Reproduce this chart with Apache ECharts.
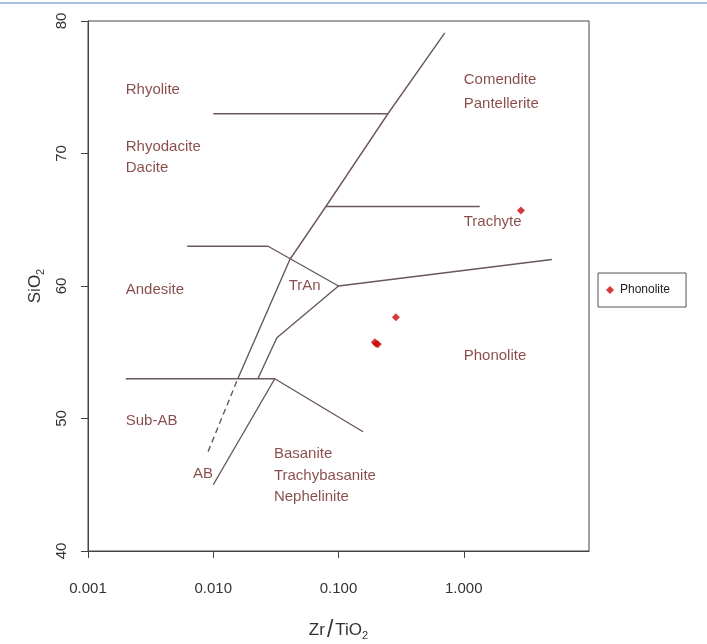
<!DOCTYPE html>
<html>
<head>
<meta charset="utf-8">
<script src="https://cdn.jsdelivr.net/npm/echarts@6/dist/echarts.min.js"></script>
<style>
  html, body { margin: 0; padding: 0; background: #ffffff; }
  #chart { width: 707px; height: 644px; }
</style>
</head>
<body>
<div id="chart"></div>
<script>
// Winchester & Floyd SiO2 vs Zr/TiO2 classification diagram

// Sample analyses (Zr/TiO2, SiO2)
const phonoliteSamples = [[2.86, 65.7], [0.287, 57.65], [0.195, 55.75], [0.2, 55.65], [0.206, 55.6]];

// Field boundaries (Zr/TiO2, SiO2)
const lineRhyolite   = [[0.01, 73], [0.248, 73]];
const lineComendite  = [[0.079, 66], [1.34, 66]];
const lineAlkaline   = [[0.0157, 53], [0.0409, 62], [0.0793, 66], [0.248, 73], [0.706, 79.1]];
const lineAlkDashed  = [[0.0091, 47.5], [0.0157, 53]];
const lineAndesite   = [[0.0062, 63], [0.0274, 63], [0.1, 60], [5.05, 62]];
const lineTrAn       = [[0.0227, 53], [0.0322, 56.1], [0.1, 60]];
const lineSubAB      = [[0.002, 53], [0.031, 53], [0.157, 49]];
const lineAB         = [[0.01, 45], [0.031, 53]];

// Field names, anchor points (left edge, vertical middle) and line spacing
const fieldNames = [
  { name: 'Rhyolite', at: [0.002, 75], lh: 21 },
  { name: 'Rhyodacite\nDacite', at: [0.002, 69.95], lh: 21 },
  { name: 'Comendite\nPantellerite', at: [1.0, 74.9], lh: 24 },
  { name: 'Trachyte', at: [1.0, 65.05], lh: 21 },
  { name: 'Andesite', at: [0.002, 59.95], lh: 21 },
  { name: 'TrAn', at: [0.04, 60.25], lh: 21 },
  { name: 'Phonolite', at: [1.0, 54.95], lh: 21 },
  { name: 'Sub-AB', at: [0.002, 50.05], lh: 21 },
  { name: 'AB', at: [0.0069, 46.05], lh: 21 },
  { name: 'Basanite\nTrachybasanite\nNephelinite', at: [0.0305, 45.9], lh: 21.5 }
];

// Axis ticks
const xTicks = [0.001, 0.01, 0.1, 1];
const yTicks = [40, 50, 60, 70, 80];

const lineColor = '#6a5858';
const textRed = '#6c1f1f';
const axisColor = '#444444';
const font = 'Liberation Sans, Arial, sans-serif';

function boundary(data, dashed) {
  return {
    type: 'line',
    data: data,
    showSymbol: false,
    symbol: 'none',
    silent: true,
    z: 2,
    lineStyle: { color: lineColor, width: 1.4, type: dashed ? [6, 4] : 'solid' },
    legendHoverLink: false
  };
}

const chart = echarts.init(document.getElementById('chart'));

chart.setOption({
  backgroundColor: '#ffffff',
  animation: false,
  textStyle: { fontFamily: font },
  grid: {
    left: 88, top: 21, width: 501, height: 530,
    outerBoundsMode: 'none',
    containLabel: false,
    show: true, borderColor: axisColor, borderWidth: 1, backgroundColor: 'transparent'
  },
  legend: {
    data: ['Phonolite'],
    left: 598, top: 273,
    orient: 'vertical',
    backgroundColor: '#ffffff',
    borderColor: '#555555', borderWidth: 1, borderRadius: 0,
    padding: [11, 16, 11, 8],
    itemWidth: 8, itemHeight: 8, itemGap: 0,
    icon: 'diamond',
    textStyle: { fontSize: 12, color: '#222222', padding: [0, 0, 0, 1] }
  },
  xAxis: {
    type: 'log',
    logBase: 10,
    min: 0.001, max: 10,
    name: '{a|Zr}{s|/}{a|TiO}{b|2}',
    nameLocation: 'middle',
    nameGap: 68,
    nameTextStyle: {
      rich: {
        a: { fontSize: 17, color: '#333333', fontFamily: font },
        s: { fontSize: 23, color: '#333333', padding: [0, 2, 0, 2], fontFamily: font },
        b: { fontSize: 11, color: '#333333', padding: [10, 0, 0, 0], fontFamily: font }
      }
    },
    axisLine: { show: true, onZero: false, lineStyle: { color: axisColor, width: 1 } },
    axisTick: { show: true, length: 7, customValues: xTicks, lineStyle: { color: axisColor } },
    axisLabel: {
      customValues: xTicks,
      margin: 30,
      fontSize: 15,
      color: '#333333',
      formatter: function (v) { return Number(v).toFixed(3); }
    },
    splitLine: { show: false },
    minorTick: { show: false }
  },
  yAxis: {
    type: 'value',
    min: 40, max: 80, interval: 10,
    name: '{a|SiO}{b|2}',
    nameLocation: 'middle',
    nameRotate: 90,
    nameGap: 42,
    nameTextStyle: {
      rich: {
        a: { fontSize: 17, color: '#333333', fontFamily: font },
        b: { fontSize: 11, color: '#333333', padding: [10, 0, 0, 0], fontFamily: font }
      }
    },
    axisLine: { show: true, onZero: false, lineStyle: { color: axisColor, width: 1 } },
    axisTick: { show: true, length: 7, lineStyle: { color: axisColor } },
    axisLabel: {
      rotate: 90,
      margin: 19,
      fontSize: 15,
      color: '#333333',
      formatter: function (v) { return yTicks.indexOf(v) >= 0 ? String(v) : ''; }
    },
    splitLine: { show: false }
  },
  graphic: [
    { type: 'rect', shape: { x: 0, y: 2, width: 707, height: 2 }, style: { fill: '#a9c1df' }, silent: true }
  ],
  series: [
    boundary(lineRhyolite),
    boundary(lineComendite),
    boundary(lineAlkaline),
    boundary(lineAlkDashed, true),
    boundary(lineAndesite),
    boundary(lineTrAn),
    boundary(lineSubAB),
    boundary(lineAB),
    {
      type: 'scatter',
      name: 'fields',
      silent: true,
      symbolSize: 0,
      data: fieldNames.map(function (f) {
        return { value: f.at, label: { formatter: f.name, lineHeight: f.lh } };
      }),
      label: {
        show: true,
        position: 'right',
        distance: 0,
        offset: [0, 3],
        fontSize: 15,
        color: textRed,
        fontFamily: font
      },
      z: 3
    },
    {
      type: 'scatter',
      name: 'Phonolite',
      symbol: 'diamond',
      symbolSize: 8,
      itemStyle: { color: '#cc0a0a' },
      data: phonoliteSamples,
      z: 5
    }
  ]
});
</script>
</body>
</html>
